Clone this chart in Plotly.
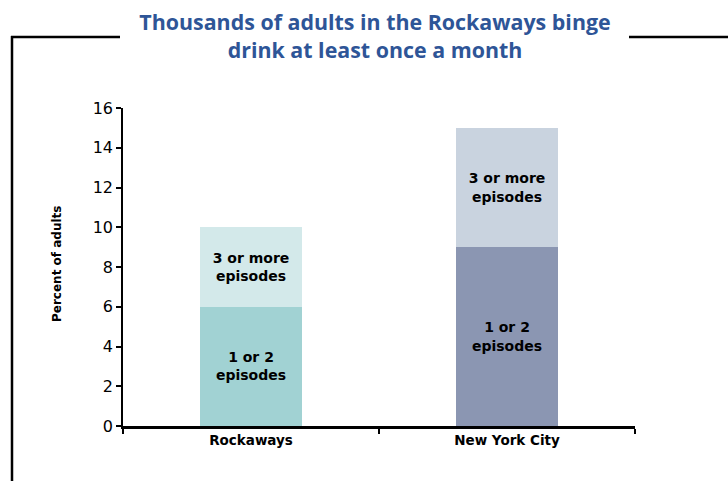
import plotly.graph_objects as go

categories = ["Rockaways", "New York City"]
low_vals = [6, 9]          # 1 or 2 episodes
high_vals = [4, 6]         # 3 or more episodes
low_label = "1 or 2<br>episodes"
high_label = "3 or more<br>episodes"
low_colors = ["#A1D2D3", "#8B96B2"]
high_colors = ["#D3E9EA", "#C9D3DF"]
y_ticks = [0, 2, 4, 6, 8, 10, 12, 14, 16]

W, H = 728, 481
# plot area in screen coords: x 123..635, y 108..426
L = 123
R = W - 635
T = 108
B = H - 426
pw, ph = W - L - R, H - T - B

def px(x):
    return (x - L) / pw

def py(y):
    return (H - B - y) / ph

fig = go.Figure()
fig.add_trace(go.Bar(
    x=categories, y=low_vals, width=0.4,
    marker=dict(color=low_colors, line=dict(width=0)),
    text=[low_label] * len(categories), textposition="inside",
    insidetextanchor="middle", textangle=0,
    textfont=dict(family="DejaVu Sans", size=14, color="black", weight="bold"),
    hoverinfo="skip", showlegend=False,
))
fig.add_trace(go.Bar(
    x=categories, y=high_vals, width=0.4,
    marker=dict(color=high_colors, line=dict(width=0)),
    text=[high_label] * len(categories), textposition="inside",
    insidetextanchor="middle", textangle=0,
    textfont=dict(family="DejaVu Sans", size=14, color="black", weight="bold"),
    hoverinfo="skip", showlegend=False,
))

line_style = dict(color="black", width=2.5)
shapes = [
    dict(type="line", xref="paper", yref="paper", x0=px(11), x1=px(120), y0=py(37), y1=py(37), line=line_style),
    dict(type="line", xref="paper", yref="paper", x0=px(629), x1=px(728), y0=py(37), y1=py(37), line=line_style),
    dict(type="line", xref="paper", yref="paper", x0=px(12), x1=px(12), y0=py(36), y1=py(481), line=line_style),
]

fig.update_layout(
    width=W, height=H,
    margin=dict(l=L, r=R, t=T, b=B),
    barmode="stack",
    plot_bgcolor="white", paper_bgcolor="white",
    title=dict(
        text="Thousands of adults in the Rockaways binge<br>drink at least once a month",
        x=375 / W, xanchor="center", xref="container",
        y=1 - 30 / H, yanchor="middle", yref="container",
        font=dict(family="Open Sans", size=21.4, color="#2E5597", weight="bold"),
    ),
    shapes=shapes,
    annotations=[dict(
        text="Percent of adults", xref="paper", yref="paper",
        x=px(57), y=py(264), xanchor="center", yanchor="middle",
        textangle=-90, showarrow=False,
        font=dict(family="DejaVu Sans", size=12, color="black", weight="bold"),
    )],
)
fig.update_xaxes(
    type="category", range=[-0.5, 1.5],
    showline=True, linecolor="black", linewidth=2.5,
    ticks="outside", tickson="boundaries", ticklen=5, tickwidth=1.5, tickcolor="black",
    tickfont=dict(family="DejaVu Sans", size=13.5, color="black", weight="bold"),
    showgrid=False, zeroline=False,
)
fig.update_yaxes(
    range=[0, 16], tickvals=y_ticks,
    showline=True, linecolor="black", linewidth=1.5,
    ticks="outside", ticklen=5, tickwidth=1.5, tickcolor="black",
    tickfont=dict(family="DejaVu Sans", size=16, color="black"),
    showgrid=False, zeroline=False,
)

fig.write_html("out.html", config={"displayModeBar": False},
               post_script="document.body.style.margin='0';")
